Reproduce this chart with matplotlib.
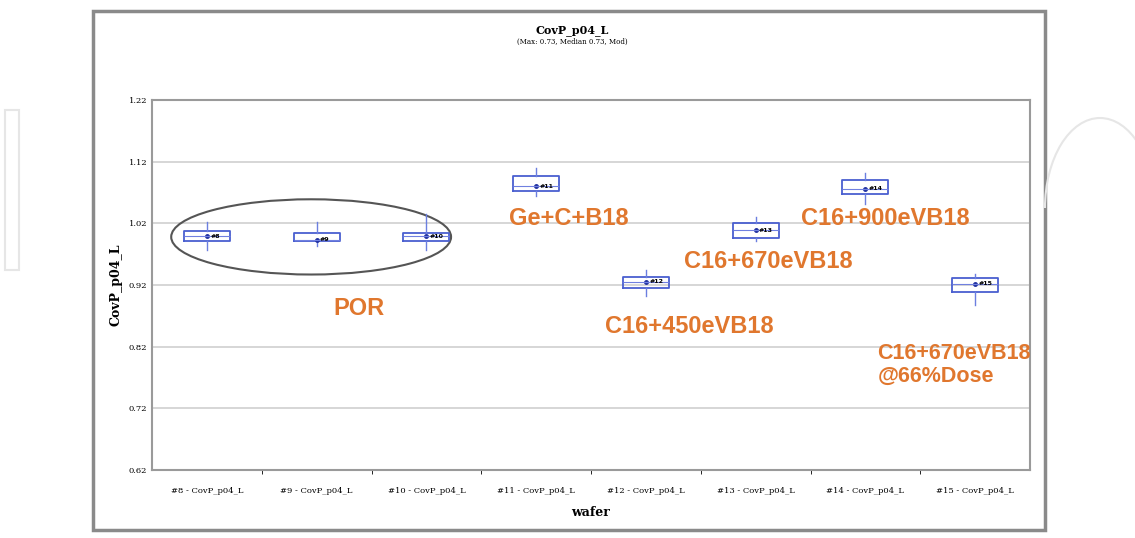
import matplotlib
matplotlib.use('Agg')
import matplotlib.pyplot as plt
from matplotlib.patches import Ellipse, Rectangle, Arc
import numpy as np

# wafer data
wafers = ['#8', '#9', '#10', '#11', '#12', '#13', '#14', '#15']
tick_labels = [w + ' - CovP_p04_L' for w in wafers]
q1 = [0.991, 0.991, 0.992, 1.073, 0.915, 0.997, 1.067, 0.909]
q3 = [1.007, 1.005, 1.005, 1.096, 0.933, 1.020, 1.090, 0.931]
med = [0.999, 0.993, 0.999, 1.080, 0.925, 1.009, 1.076, 0.922]
wlo = [0.976, 0.983, 0.976, 1.064, 0.902, 0.992, 1.052, 0.888]
whi = [1.022, 1.022, 1.035, 1.109, 0.944, 1.031, 1.102, 0.938]
yticks = [0.62, 0.72, 0.82, 0.92, 1.02, 1.12, 1.22]

notes = ['POR', 'Ge+C+B18', 'C16+670eVB18', 'C16+450eVB18', 'C16+900eVB18',
         'C16+670eVB18\n@66%Dose']
note_x = [1.89, 3.8, 5.62, 4.9, 6.68, 6.61]
note_y = [0.882, 1.028, 0.958, 0.853, 1.028, 0.790]

orange = '#E0772E'
fig = plt.figure(figsize=(11.35, 5.38), dpi=100)

# outer frame of the chart window
fig.patches.append(Rectangle((93/1135, 8/538), (1045-93)/1135, (527-8)/538,
                             transform=fig.transFigure, fill=False,
                             edgecolor='#8a8a8a', linewidth=2.5))
# faint watermark strokes
fig.patches.append(Rectangle((5/1135, 268/538), 14/1135, 160/538, transform=fig.transFigure,
                             facecolor='none', edgecolor='#e6e6e6', linewidth=1.5))
fig.patches.append(Arc((1100/1135, 330/538), 110/1135, 180/538, theta1=0, theta2=180,
                       transform=fig.transFigure, edgecolor='#e6e6e6', linewidth=1.5))

ax = fig.add_axes([152/1135, 68/538, (1030-152)/1135, (438-68)/538])

stats = []
for i in range(len(wafers)):
    stats.append(dict(med=med[i], q1=q1[i], q3=q3[i], whislo=wlo[i], whishi=whi[i], fliers=[]))
pos = np.arange(len(wafers)) + 0.5
ax.bxp(stats, positions=pos, widths=0.42, showcaps=False,
       boxprops=dict(color='#4a5fd0', linewidth=1.3),
       whiskerprops=dict(color='#6b7fe0', linewidth=1.0),
       medianprops=dict(color='#7080e0', linewidth=0.8))
for i in range(len(wafers)):
    ax.plot(pos[i], med[i], 'o', color='#2030a0', markersize=2.5)
    ax.text(pos[i] + 0.03, med[i], wafers[i], fontsize=4.5, fontweight='bold',
            va='center', ha='left', color='black')

ax.set_xlim(0, len(wafers))
ax.set_ylim(0.62, 1.22)
ax.set_yticks(yticks)
ax.set_yticklabels(['%.2f' % v for v in yticks], fontsize=6, family='DejaVu Serif')
ax.set_xticks(pos)
ax.set_xticklabels(tick_labels, fontsize=6, family='DejaVu Serif')
ax.set_xticks(np.arange(1, len(wafers)), minor=True)
ax.tick_params(axis='x', which='major', length=0, pad=12)
ax.tick_params(axis='x', which='minor', length=3)
ax.tick_params(axis='y', length=0)
ax.grid(axis='y', color='#cfcfcf', linewidth=1.2)
ax.set_axisbelow(True)
for s in ax.spines.values():
    s.set_color('#9a9a9a')
    s.set_linewidth(1.5)

ax.set_ylabel('CovP_p04_L', fontsize=9, fontweight='bold', family='DejaVu Serif')
ax.set_xlabel('wafer', fontsize=9, fontweight='bold', family='DejaVu Serif', labelpad=8)

fig.text(572/1135, 1 - 30/538, 'CovP_p04_L', ha='center', va='center', fontsize=8,
         fontweight='bold', family='DejaVu Serif')
fig.text(572/1135, 1 - 42/538, '(Max: 0.73, Median 0.73, Mod)', ha='center', va='center',
         fontsize=5, family='DejaVu Serif')

ax.add_patch(Ellipse((1.45, 0.998), 2.55, 0.122, fill=False, edgecolor='#555555', linewidth=1.5))

for i, txt in enumerate(notes):
    last = i == len(notes) - 1
    ax.text(note_x[i], note_y[i], txt, color=orange, fontsize=15.5 if last else 17,
            fontweight='bold', ha='left' if last else 'center', va='center',
            linespacing=1.1, family='Liberation Sans')

fig.savefig('out.png', dpi=100)
